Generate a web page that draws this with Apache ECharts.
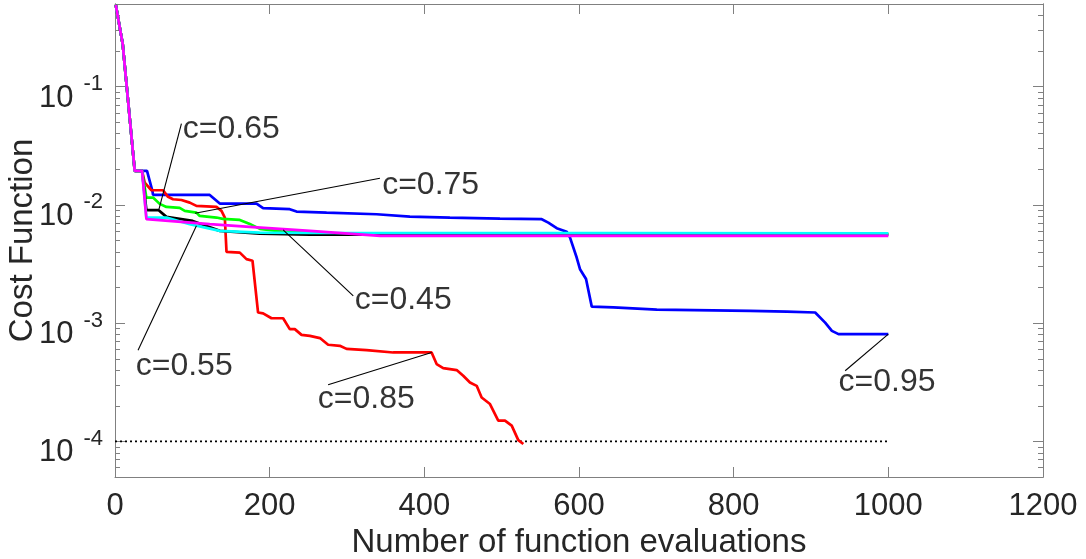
<!DOCTYPE html>
<html>
<head>
<meta charset="utf-8">
<script src="https://cdn.jsdelivr.net/npm/echarts@6/dist/echarts.min.js"></script>
<style>html,body{margin:0;padding:0;background:#fff;}#chart{width:1086px;height:559px;}</style>
</head>
<body>
<div id="chart"></div>
<script>
// ---- data (x = number of function evaluations, y = cost function) ----
const commonStart = [[1,0.49],[10,0.228],[25.5,0.0194],[35,0.0194]];
const c95 = [[41.4,0.0194],[48.4,0.0131],[49.2,0.01215],[122.5,0.01215],[135.5,0.01026],[183,0.01026],[191.5,0.00938],[226,0.0092],[234.7,0.00878],[273.6,0.00861],[338.3,0.00834],[381.3,0.00796],[433.1,0.00782],[497.8,0.00766],[551.8,0.00757],[560.3,0.00708],[571.2,0.00635],[584.1,0.00594],[588.4,0.00529],[597,0.00359],[601.3,0.00286],[609.1,0.00236],[616.5,0.00138],[644.4,0.00136],[700.6,0.0013],[821.3,0.00127],[868.8,0.00125],[905.4,0.00123],[918.3,0.00101],[927,0.000861],[935.6,0.000807],[1000,0.000807]];
const c85 = [[38.4,0.01542],[47.1,0.0133],[62.1,0.0133],[68.6,0.0117],[75,0.01117],[85.9,0.011],[96.7,0.01045],[105.3,0.00981],[131.2,0.00962],[137.7,0.0089],[142,0.00782],[144.2,0.00401],[161.4,0.00395],[170,0.00348],[177.8,0.00337],[185,0.00123],[191.5,0.00121],[202.4,0.0011],[217.4,0.0011],[226,0.00089],[232.5,0.00089],[241.2,0.000796],[252,0.000781],[265,0.000748],[275.6,0.000657],[290.8,0.000643],[299.4,0.000606],[325.3,0.000591],[359.7,0.000565],[409.4,0.000565],[415.9,0.000451],[424.4,0.000417],[441.8,0.000401],[450.3,0.000359],[459,0.000315],[467.7,0.000295],[474.1,0.000235],[484.9,0.000207],[495.6,0.00015],[504.3,0.00015],[513,0.000136],[521.5,0.0001026],[528,0.000095]];
const c75 = [[40.6,0.01153],[49.2,0.01153],[57.8,0.0102],[66.5,0.00962],[83.6,0.00944],[90.2,0.0089],[105.3,0.0086],[109.6,0.00807],[131.2,0.00782],[139.4,0.00762],[161.4,0.00747],[174.3,0.00691],[187.3,0.00627],[217,0.00594],[252,0.0058],[300,0.0057],[1000,0.0057]];
const c65 = [[40.6,0.00902],[56.5,0.00902],[66.5,0.00792],[100.5,0.00732],[135.5,0.00603],[187.2,0.0057],[252,0.0056],[1000,0.0056]];
const c55 = [[40.6,0.00782],[66.5,0.00782],[96.6,0.00687],[135.6,0.00603],[187,0.00583],[252,0.0058],[1000,0.00574]];
const c45 = [[40.6,0.00757],[122.5,0.00687],[174,0.00652],[252,0.00603],[343,0.00547],[1000,0.00547]];
const seriesNames = ['c=0.95','c=0.85','c=0.75','c=0.65','c=0.55','c=0.45'];
const seriesColors = ['#0000ff','#ff0000','#00ff00','#000000','#00ffff','#ff00ff'];
const thresholdX = [0, 1000];
const thresholdY = 1e-4;
// annotations: text anchor, leader start, leader end (target)
const annotLabels = ['c=0.65','c=0.75','c=0.45','c=0.55','c=0.85','c=0.95'];
const annotText = [[87.7,0.0439],[345.5,0.01463],[310,0.00155],[26.8,0.000435],[262.3,0.000226],[935.7,0.000319]];
const annotFrom = [[85.9,0.0486],[342.6,0.01683],[308.1,0.0017],[29.8,0.000591],[275.6,0.000301],[944.2,0.000396]];
const annotTo = [[56.9,0.0092],[103.4,0.0085],[217.4,0.00615],[105.3,0.00665],[409.4,0.000565],[1000,0.000807]];
// axes
const xTicks = [0,200,400,600,800,1000,1200];
const yMin = 5e-5, yMax = 0.5;
const yMajorExp = [-4,-3,-2,-1];

// ---- build ----
const L = v => Math.log10(v);
const toLog = arr => arr.map(p => [p[0], L(p[1])]);
const curveData = [c95,c85,c75,c65,c55,c45].map(a => toLog(commonStart.concat(a)));
const minorVals = [];
for (let e = -5; e <= -1; e++) for (let k = 2; k <= 9; k++) {
  const v = L(k) + e; if (v > L(yMin) && v < L(yMax)) minorVals.push(v);
}
const FONT = "'Liberation Sans', Arial, Helvetica, sans-serif";
const axisGray = '#808080';
const labelColor = '#262626';

function yAx(pos, vals, len, labels) {
  return {
    type: 'value', position: pos, min: L(yMin), max: L(yMax),
    axisLine: {show: true, lineStyle: {color: axisGray, width: 1}},
    axisTick: {show: true, inside: true, length: len, customValues: vals, lineStyle: {color: axisGray, width: 1}},
    splitLine: {show: false},
    axisLabel: labels ? {
      show: true, customValues: yMajorExp, margin: 12, fontFamily: FONT,
      formatter: v => '{b|10}{s|' + Math.round(v) + '}',
      padding: [23,0,0,0],
      rich: {
        b: {fontSize: 31, lineHeight: 50, color: labelColor, fontFamily: FONT},
        s: {fontSize: 22, lineHeight: 20, color: labelColor, fontFamily: FONT, verticalAlign: 'top', padding: [0,0,0,10]}
      }
    } : {show: false},
    name: labels ? 'Cost Function' : '', nameLocation: 'middle', nameGap: 76, nameMoveOverlap: false,
    nameTextStyle: {fontSize: 33, color: labelColor, fontFamily: FONT}
  };
}
function xAx(pos, labels) {
  return {
    type: 'value', position: pos, min: 0, max: 1200, interval: 200,
    axisLine: {show: true, lineStyle: {color: axisGray, width: 1}},
    axisTick: {show: true, inside: true, length: 10, lineStyle: {color: axisGray, width: 1}},
    splitLine: {show: false},
    axisLabel: labels ? {show: true, fontSize: 31, color: labelColor, fontFamily: FONT, margin: 14,
      formatter: v => xTicks.indexOf(v) >= 0 ? String(v) : ''} : {show: false},
    name: labels ? 'Number of function evaluations' : '', nameLocation: 'middle', nameGap: 49, nameMoveOverlap: false,
    nameTextStyle: {fontSize: 33, color: labelColor, fontFamily: FONT}
  };
}

const series = [];
series.push({
  type: 'line', data: thresholdX.map(x => [x, L(thresholdY)]), symbol: 'none',
  lineStyle: {color: '#000', width: 1.7, type: [2,3]}, z: 2, silent: true
});
curveData.forEach((d, i) => series.push({
  name: seriesNames[i], type: 'line', data: d, symbol: 'none',
  lineStyle: {color: seriesColors[i], width: 2.7}, z: 3 + i, silent: true
}));
annotLabels.forEach((t, i) => series.push({
  type: 'line', data: [toLog([annotFrom[i]])[0], toLog([annotTo[i]])[0]], symbol: 'none',
  lineStyle: {color: '#000', width: 1.1}, z: 20, silent: true
}));
series.push({
  type: 'scatter', symbolSize: 0, z: 21, silent: true,
  data: annotText.map((p, i) => ({value: [p[0], L(p[1])], name: annotLabels[i]})),
  label: {show: true, position: 'right', distance: 0, formatter: p => p.name,
    fontSize: 32, color: '#000', fontFamily: FONT}
});

const chart = echarts.init(document.getElementById('chart'), null, {renderer: 'canvas'});
chart.setOption({
  animation: false,
  backgroundColor: '#fff',
  grid: {left: 115, right: 43, top: 4, bottom: 82, containLabel: false, outerBoundsMode: 'none'},
  xAxis: [xAx('bottom', true), xAx('top', false)],
  yAxis: [yAx('left', yMajorExp, 10, true), yAx('left', minorVals, 5, false),
          yAx('right', yMajorExp, 10, false), yAx('right', minorVals, 5, false)],
  series: series
});
</script>
</body>
</html>
